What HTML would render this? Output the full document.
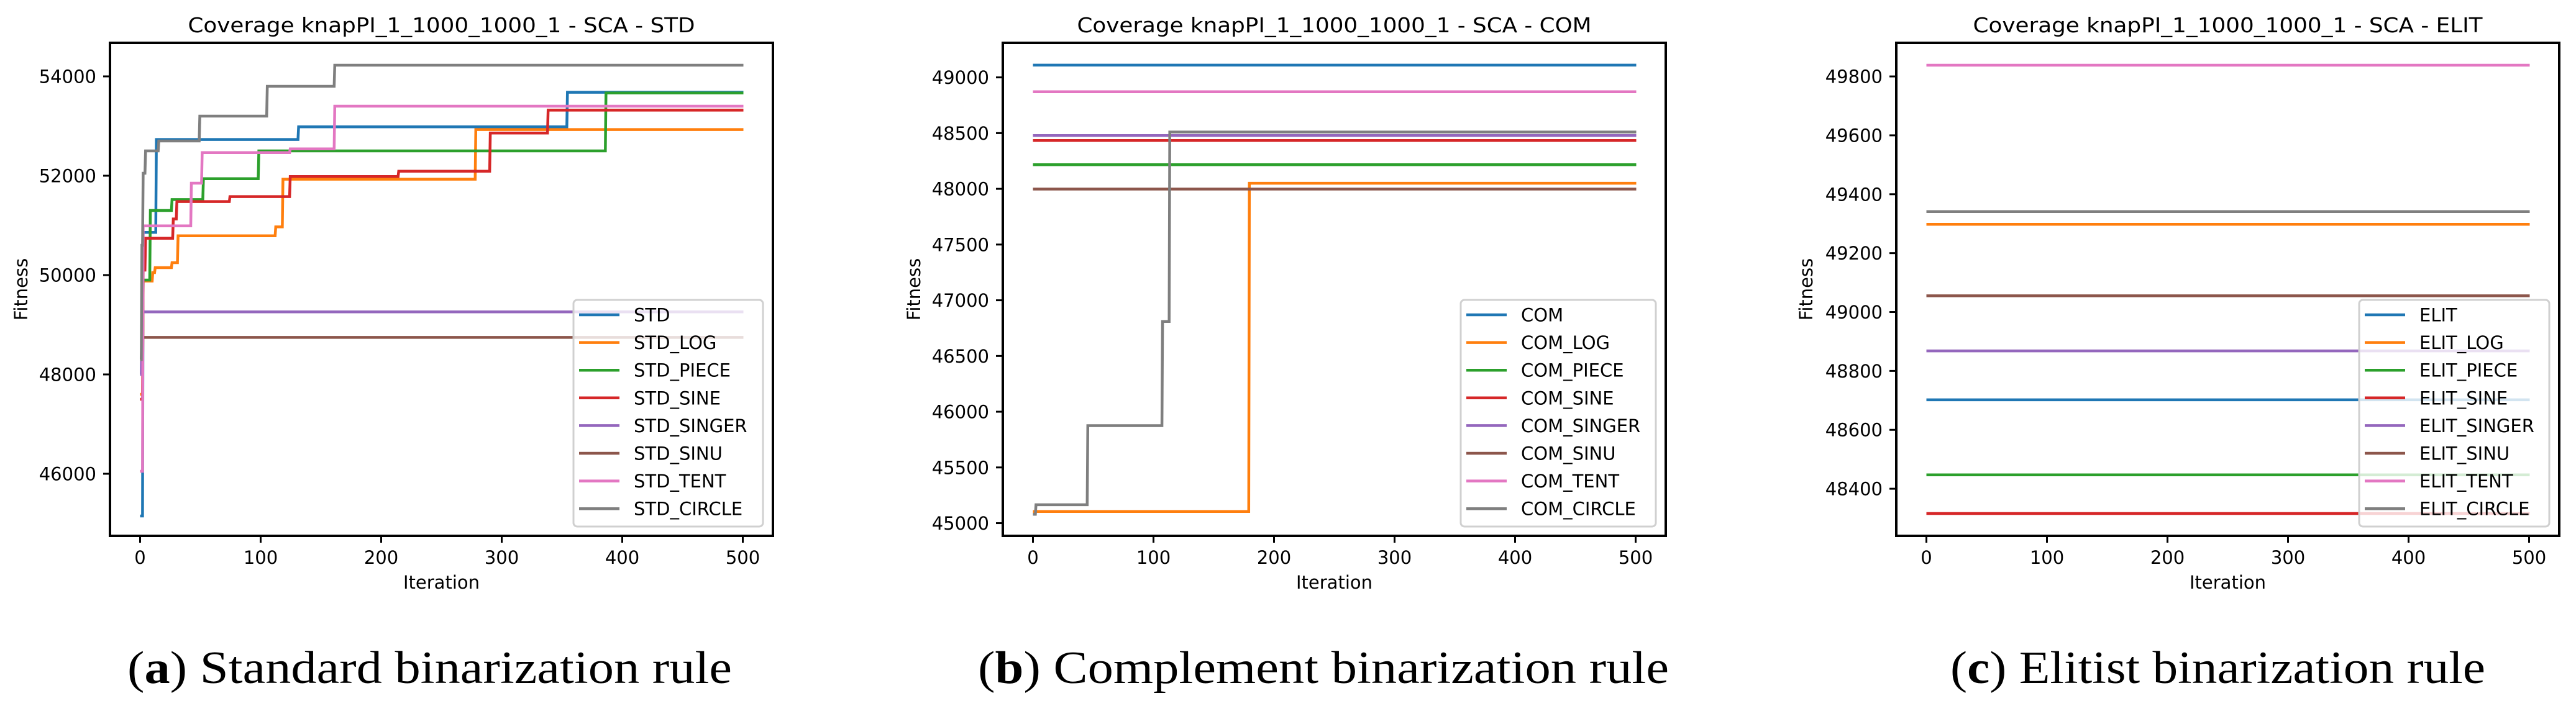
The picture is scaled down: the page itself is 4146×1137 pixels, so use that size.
<!DOCTYPE html>
<html>
<head>
<meta charset="utf-8">
<style>
  html, body { margin: 0; padding: 0; background: #fff; }
  #fig { display: block; }
  text { font-family: "DejaVu Sans", "Liberation Sans", sans-serif; fill: #000; }
  .cap { font-family: "Liberation Serif", "DejaVu Serif", serif; }
</style>
</head>
<body>
<svg id="fig" xmlns="http://www.w3.org/2000/svg" width="4146" height="1137" viewBox="0 0 4146 1137"></svg>
<script>
// ---------- data ----------
const iterTicks = [0, 100, 200, 300, 400, 500];
const colors = ["#1f77b4","#ff7f0e","#2ca02c","#d62728","#9467bd","#8c564b","#e377c2","#7f7f7f"];

// Panel A (STD)
const stdNames = ["STD","STD_LOG","STD_PIECE","STD_SINE","STD_SINGER","STD_SINU","STD_TENT","STD_CIRCLE"];
const stdYTicks = [46000, 48000, 50000, 52000, 54000];
const stdIters = [
  [0,2,13,131,354,500],
  [0,2,10,12,26,31,112,118,278,500],
  [0,2,8,26,52,98,386,500],
  [0,2,4,27,30,74,124,214,290,338,500],
  [0,1,500],
  [0,1,500],
  [0,2,42,51,124,161,500],
  [0,1,2,4,15,49,105,161,500]
];
const stdVals = [
  [45150,50860,52730,52985,53680,53680],
  [47600,49880,50050,50150,50250,50790,50970,51930,52930,52930],
  [48050,49900,51300,51520,51940,52500,53665,53665],
  [47500,50100,50740,51130,51480,51580,51985,52090,52860,53320,53320],
  [48000,49260,49260],
  [48300,48745,48745],
  [46050,50990,51850,52465,52540,53400,53400],
  [48300,50600,52050,52500,52700,53200,53800,54225,54225]
];

// Panel B (COM)
const comNames = ["COM","COM_LOG","COM_PIECE","COM_SINE","COM_SINGER","COM_SINU","COM_TENT","COM_CIRCLE"];
const comYTicks = [45000, 45500, 46000, 46500, 47000, 47500, 48000, 48500, 49000];
const comIters = [
  [0,500],
  [0,179,500],
  [0,500],
  [0,500],
  [0,500],
  [0,500],
  [0,500],
  [0,2,45,107,113,500]
];
const comVals = [
  [49110,49110],
  [45105,48050,48050],
  [48216,48216],
  [48434,48434],
  [48478,48478],
  [47998,47998],
  [48871,48871],
  [45080,45165,45875,46810,48510,48510]
];

// Panel C (ELIT)
const elitNames = ["ELIT","ELIT_LOG","ELIT_PIECE","ELIT_SINE","ELIT_SINGER","ELIT_SINU","ELIT_TENT","ELIT_CIRCLE"];
const elitYTicks = [48400, 48600, 48800, 49000, 49200, 49400, 49600, 49800];
const elitIters = [[0,500],[0,500],[0,500],[0,500],[0,500],[0,500],[0,500],[0,500]];
const elitVals = [
  [48702,48702],
  [49298,49298],
  [48447,48447],
  [48316,48316],
  [48868,48868],
  [49055,49055],
  [49838,49838],
  [49341,49341]
];

// ---------- drawing ----------
const NS = "http://www.w3.org/2000/svg";
const svg = document.getElementById("fig");
function mk(tag, attrs, parent) {
  const e = document.createElementNS(NS, tag);
  for (const k in attrs) e.setAttribute(k, attrs[k]);
  (parent || svg).appendChild(e);
  return e;
}

function drawPanel(cfg) {
  const L = cfg.left, R = cfg.left + 1067, T = 69, B = 863;
  const g = mk("g", {});
  
  
  const xs = v => L + (v - (-25)) / 550 * (R - L);
  const ys = v => B - (v - cfg.yMin) / (cfg.yMax - cfg.yMin) * (B - T);

  // series
  for (let s = 0; s < cfg.iters.length; s++) {
    const it = cfg.iters[s], vs = cfg.vals[s];
    let d = "M" + xs(it[0]).toFixed(1) + "," + ys(vs[0]).toFixed(1);
    for (let i = 1; i < it.length; i++) {
      d += " L" + xs(it[i]).toFixed(1) + "," + ys(vs[i-1]).toFixed(1);
      d += " L" + (xs(it[i]) + 1).toFixed(1) + "," + ys(vs[i]).toFixed(1);
    }
    const p = mk("path", {d: d, fill: "none", stroke: colors[s], "stroke-width": 4.5, "stroke-linejoin": "miter"}, g);
    
    
  }

  // axes frame
  const fr = mk("rect", {x: L, y: T, width: R - L, height: B - T, fill: "none", stroke: "#000", "stroke-width": 4}, g);
  
  

  // x ticks
  for (const t of iterTicks) {
    const x = xs(t);
    mk("line", {x1: x, y1: B, x2: x, y2: B + 11, stroke: "#000", "stroke-width": 3}, g);
    const tx = mk("text", {x: x, y: 908, "font-size": 29, "text-anchor": "middle"}, g);
    tx.textContent = t;
    
    
  }
  // y ticks
  for (const t of cfg.yTicks) {
    const y = ys(t);
    mk("line", {x1: L - 11, y1: y, x2: L, y2: y, stroke: "#000", "stroke-width": 3}, g);
    const ty = mk("text", {x: L - 22, y: y + 10.5, "font-size": 29, "text-anchor": "end"}, g);
    ty.textContent = t;
    
    
  }

  // title
  const ti = mk("text", {x: (L + R) / 2, y: 52, "font-size": 33, "text-anchor": "middle", textLength: cfg.titleLen, lengthAdjust: "spacingAndGlyphs"}, g);
  ti.textContent = cfg.title;
  
  

  // axis labels
  const xl = mk("text", {x: (L + R) / 2, y: 948, "font-size": 29, "text-anchor": "middle"}, g);
  xl.textContent = "Iteration";
  
  
  const yl = mk("text", {x: 0, y: 0, "font-size": 29, "text-anchor": "middle", transform: "translate(" + (cfg.ylabX + 10) + ",466) rotate(-90)"}, g);
  yl.textContent = "Fitness";
  
  

  // legend
  const lx = L + cfg.legLeft, lw = R - 16 - lx, ly = 483, lh = 365;
  const lg = mk("g", {}, g);
  
  
  mk("rect", {x: lx, y: ly, width: lw, height: lh, rx: 6, fill: "rgba(255,255,255,0.8)", stroke: "#d0d0d0", "stroke-width": 3}, lg);
  for (let s = 0; s < cfg.names.length; s++) {
    const y = 507 + s * 44.6;
    mk("line", {x1: lx + 9, y1: y, x2: lx + 74, y2: y, stroke: colors[s], "stroke-width": 4.5}, lg);
    const lt = mk("text", {x: lx + 97, y: y + 10.5, "font-size": 29}, lg);
    lt.textContent = cfg.names[s];
    
    
  }

  // caption
  const cp = mk("text", {x: cfg.capX, y: 1100, "font-size": 74, class: "cap", textLength: cfg.capLen, lengthAdjust: "spacingAndGlyphs"}, g);
  const b = document.createElementNS(NS, "tspan");
  cp.appendChild(document.createTextNode("("));
  b.setAttribute("font-weight", "bold");
  b.textContent = cfg.capLetter;
  cp.appendChild(b);
  cp.appendChild(document.createTextNode(") " + cfg.capText));
  
  
}

drawPanel({key: "std", left: 177, yMin: 44750, yMax: 54675, yTicks: stdYTicks,
  iters: stdIters, vals: stdVals, names: stdNames,
  title: "Coverage knapPI_1_1000_1000_1 - SCA - STD", titleLen: 816, ylabX: 34, legLeft: 746,
  capX: 205, capLen: 973, capLetter: "a", capText: "Standard binarization rule"});
drawPanel({key: "com", left: 1614, yMin: 44886, yMax: 49310, yTicks: comYTicks,
  iters: comIters, vals: comVals, names: comNames,
  title: "Coverage knapPI_1_1000_1000_1 - SCA - COM", titleLen: 828, ylabX: 1471, legLeft: 737,
  capX: 1574, capLen: 1112, capLetter: "b", capText: "Complement binarization rule"});
drawPanel({key: "elit", left: 3052, yMin: 48240, yMax: 49914, yTicks: elitYTicks,
  iters: elitIters, vals: elitVals, names: elitNames,
  title: "Coverage knapPI_1_1000_1000_1 - SCA - ELIT", titleLen: 820, ylabX: 2907, legLeft: 745,
  capX: 3139, capLen: 861, capLetter: "c", capText: "Elitist binarization rule"});
</script>
</body>
</html>
